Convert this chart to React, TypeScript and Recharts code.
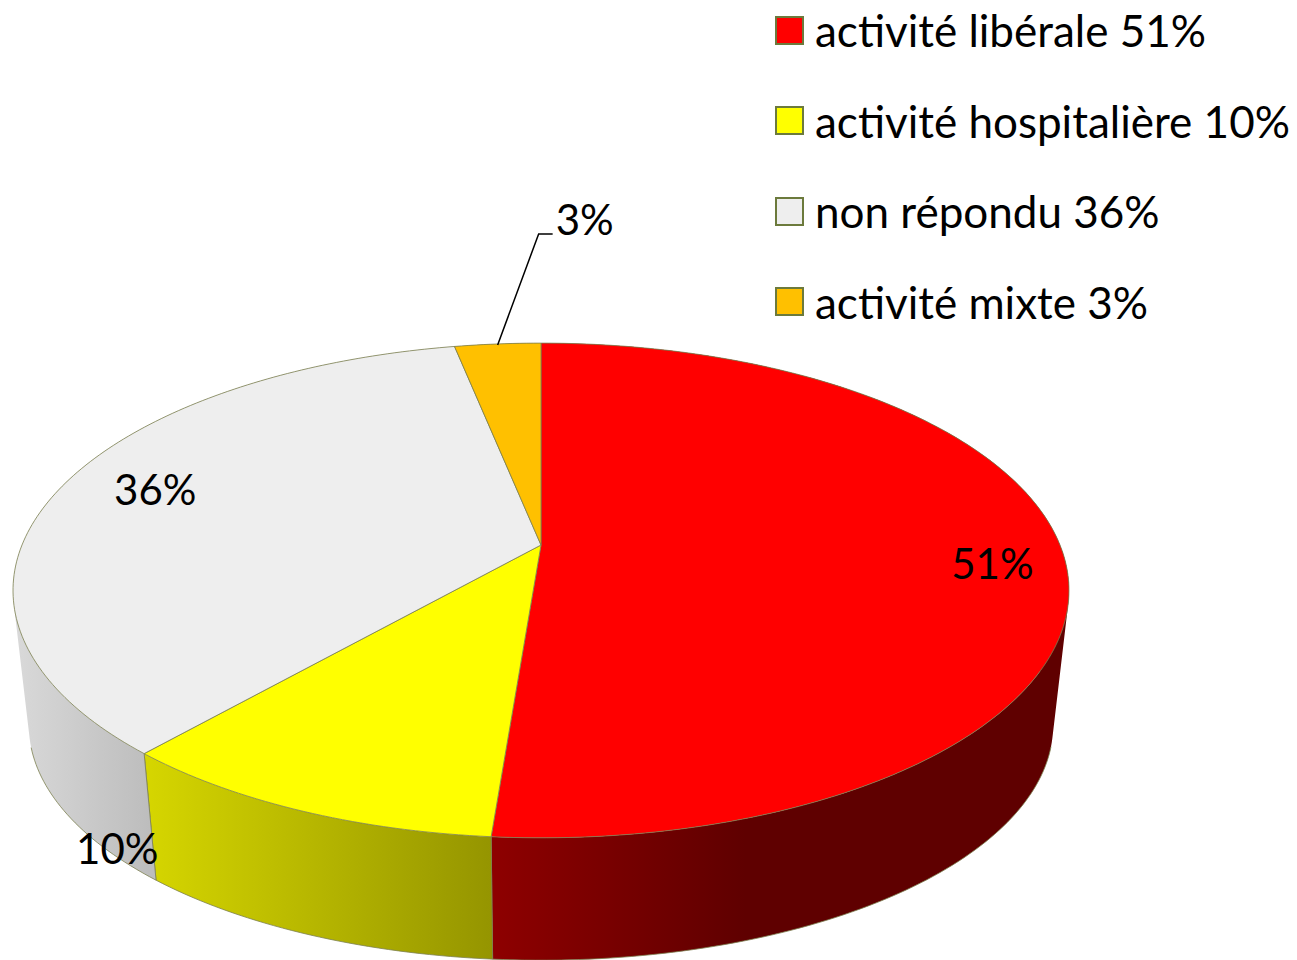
import { Legend, Pie, PieChart } from 'recharts';

const sliceNames = ['activité libérale', 'activité hospitalière', 'non répondu', 'activité mixte'];
const sliceShares = [51.25, 10.2, 35.4, 3.15];
const shareLabels = ['51%', '10%', '36%', '3%'];
const topColors = ['#FF0000', '#FFFF00', '#EEEEEE', '#FFC000'];
const wallStops = [
  ['#8E0000', '#5F0000', 491, 745],
  ['#D6D600', '#959500', 145, 491],
  ['#D9D9D9', '#BDBDBD', 15, 150],
  ['#B08400', '#B08400', 455, 541],
];

const slices = sliceNames.map((name, i) => ({
  name: `${name} ${shareLabels[i]}`,
  share: sliceShares[i],
  label: shareLabels[i],
  fill: topColors[i],
}));

// the pie is tilted, so the disc goes through a perspective projection
const TILT = 0.1838;
const TOP_PLANE = { sx: 519 / 239, sy: 1, dy: 0 };
const BOTTOM_PLANE = { sx: (0.97 * 519) / 239, sy: 0.95, dy: 137 };
const EDGE = '#7C8050';
const FONT = 'Lato, Carlito, sans-serif';

// label position relative to the slice's outer edge at its mid angle
const LABEL_SHIFT = [
  [-71, 9],
  [-181, 38],
  [93, 3],
  [87, -125],
];

type Plane = typeof TOP_PLANE;
type Pt = { x: number; y: number };

function project(cx: number, cy: number, r: number, deg: number, plane: Plane) {
  const rad = (deg * Math.PI) / 180;
  const w = 1 + TILT * Math.sin(rad);
  return {
    x: cx + (plane.sx * r * Math.cos(rad)) / w,
    y: cy + plane.dy - (plane.sy * r * Math.sin(rad)) / w,
  };
}

function arcAngles(props: any) {
  const { startAngle, endAngle } = props;
  const steps = Math.max(2, Math.ceil(Math.abs(endAngle - startAngle)));
  const out: number[] = [];
  for (let i = 0; i <= steps; i++) out.push(startAngle + ((endAngle - startAngle) * i) / steps);
  return out;
}

function arcPoints(props: any, plane: Plane) {
  return arcAngles(props).map((a) => project(props.cx, props.cy, props.outerRadius, a, plane));
}

function toPath(pts: Pt[]) {
  return pts.map((p, i) => `${i ? 'L' : 'M'}${p.x.toFixed(2)} ${p.y.toFixed(2)}`).join(' ');
}

// all quads wound the same way so one path fills their union without seams
function quadPath(a: Pt, b: Pt, c: Pt, d: Pt) {
  const q = [a, b, c, d];
  let area = 0;
  q.forEach((p, i) => {
    const n = q[(i + 1) % 4];
    area += p.x * n.y - n.x * p.y;
  });
  return `${toPath(area < 0 ? [...q].reverse() : q)} Z`;
}

function TopShape(props: any) {
  const d = `M${props.cx} ${props.cy} ${toPath(arcPoints(props, TOP_PLANE)).replace('M', 'L')} Z`;
  return <path d={d} fill={props.fill} stroke={EDGE} strokeWidth={0.8} strokeLinejoin="round" />;
}

function WallShape(props: any) {
  const top = arcPoints(props, TOP_PLANE);
  const bottom = arcPoints(props, BOTTOM_PLANE);
  const [from, to, x1, x2] = wallStops[props.index];
  const id = `wall-${props.index}`;
  const last = top.length - 1;
  const body = top
    .slice(0, last)
    .map((p, i) => quadPath(p, bottom[i], bottom[i + 1], top[i + 1]))
    .join(' ');
  // only the front of the lower rim can be seen
  const rim = arcAngles(props)
    .map((a, i) => ({ a, p: bottom[i] }))
    .filter(({ a }) => Math.sin((a * Math.PI) / 180) < -0.26)
    .map(({ p }) => p);
  return (
    <g>
      <defs>
        <linearGradient id={id} gradientUnits="userSpaceOnUse" x1={x1} x2={x2} y1={0} y2={0}>
          <stop offset="0%" stopColor={from as string} />
          <stop offset="100%" stopColor={to as string} />
        </linearGradient>
      </defs>
      <path d={body} fill={`url(#${id})`} fillRule="nonzero" />
      {rim.length > 1 && <path d={toPath(rim)} fill="none" stroke={EDGE} strokeWidth={0.8} />}
      <path d={toPath([top[0], bottom[0]])} fill="none" stroke={EDGE} strokeWidth={0.8} />
      <path d={toPath([top[last], bottom[last]])} fill="none" stroke={EDGE} strokeWidth={0.8} />
    </g>
  );
}

function sliceLabel(props: any) {
  const { cx, cy, outerRadius, midAngle, index } = props;
  const edge = project(cx, cy, outerRadius, midAngle, TOP_PLANE);
  const [dx, dy] = LABEL_SHIFT[index];
  return (
    <text
      x={edge.x + dx}
      y={edge.y + dy}
      textAnchor="middle"
      dominantBaseline="central"
      fill="#000"
      fontFamily={FONT}
      fontSize={42}
    >
      {shareLabels[index]}
    </text>
  );
}

function leaderLine(props: any) {
  const { cx, cy, outerRadius, midAngle, index } = props;
  if (index !== 3) return <g />;
  const edge = project(cx, cy, outerRadius, midAngle, TOP_PLANE);
  const d = toPath([
    { x: edge.x, y: edge.y + 1 },
    { x: edge.x + 41, y: edge.y - 110 },
    { x: edge.x + 55, y: edge.y - 110 },
  ]);
  return <path d={d} fill="none" stroke="#000" strokeWidth={1.5} />;
}

function legendContent({ payload }: any) {
  // both pies report their sectors, keep each name once
  const seen = new Set<string>();
  const rows = (payload ?? []).filter((entry: any) => {
    if (seen.has(entry.value)) return false;
    seen.add(entry.value);
    return true;
  });
  return (
    <div>
      {rows.map((entry: any) => (
        <div key={entry.value} style={{ display: 'flex', alignItems: 'center', height: 90.5 }}>
          <span
            style={{
              width: 25,
              height: 25,
              border: '2px solid #6C7A3C',
              background: entry.color,
              marginRight: 11,
            }}
          />
          <span style={{ fontFamily: FONT, fontSize: 44, color: '#000', whiteSpace: 'nowrap' }}>{entry.value}</span>
        </div>
      ))}
    </div>
  );
}

export default function App() {
  return (
    <div style={{ position: 'absolute', left: 0, top: 0, width: 1297, height: 960, overflow: 'hidden', background: '#fff' }}>
      <PieChart width={1297} height={960} margin={{ top: 0, right: 0, bottom: 0, left: 0 }}>
        <Pie
          data={slices}
          dataKey="share"
          nameKey="name"
          cx={541}
          cy={545}
          outerRadius={239}
          startAngle={90}
          endAngle={-270}
          shape={WallShape}
          legendType="none"
          isAnimationActive={false}
        />
        <Pie
          data={slices}
          dataKey="share"
          nameKey="name"
          cx={541}
          cy={545}
          outerRadius={239}
          startAngle={90}
          endAngle={-270}
          shape={TopShape}
          label={sliceLabel}
          labelLine={leaderLine}
          isAnimationActive={false}
        />
        <Legend
          layout="vertical"
          content={legendContent}
          itemSorter={null}
          wrapperStyle={{ position: 'absolute', left: 775, top: -15, width: 522 }}
        />
      </PieChart>
    </div>
  );
}
